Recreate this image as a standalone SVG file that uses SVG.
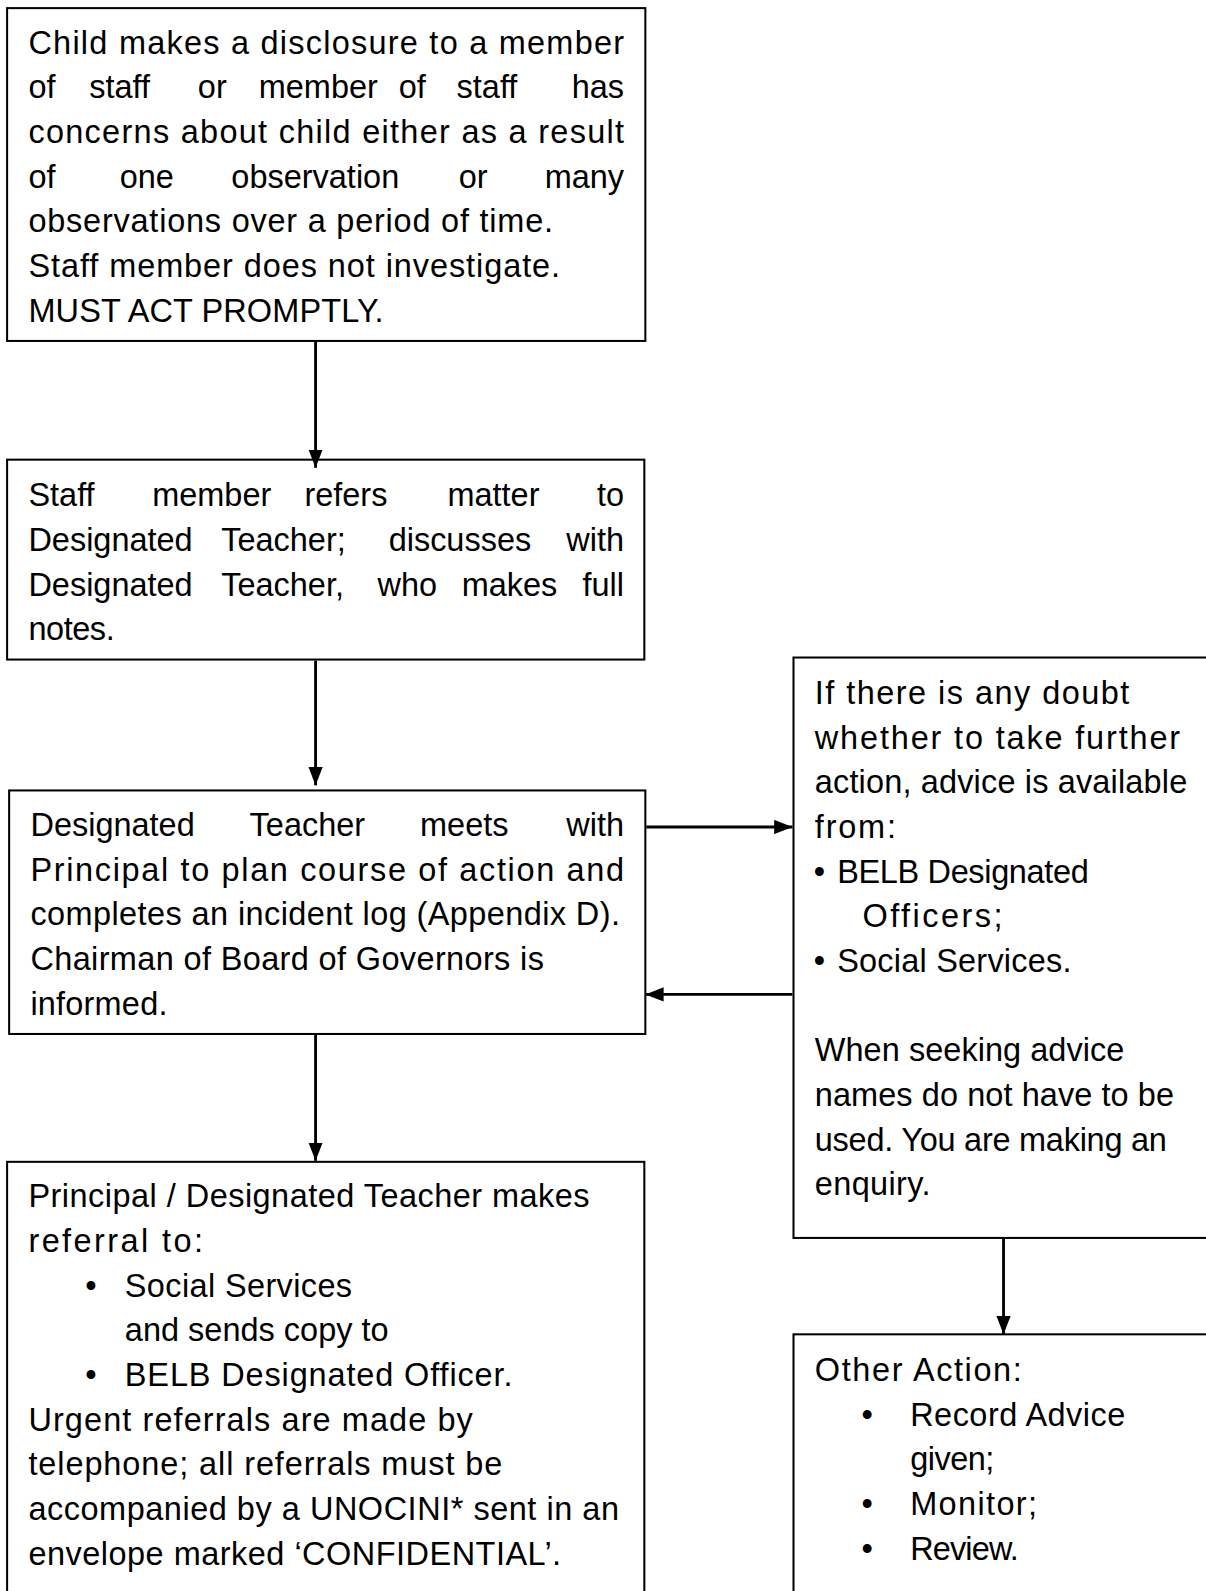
<svg xmlns="http://www.w3.org/2000/svg" width="1206" height="1591" viewBox="0 0 1206 1591">
<style>
.box{fill:#fff;stroke:#000;stroke-width:2}
.t{font-family:"Liberation Sans",Arial,sans-serif;font-size:32px;fill:#000}
.e{text-anchor:end}
.c{stroke:#000;stroke-width:2.8;fill:none;marker-end:url(#ah)}
</style>
<defs>
<marker id="ah" markerUnits="userSpaceOnUse" markerWidth="18" markerHeight="14" refX="18" refY="7" orient="auto">
<path d="M0,0 L18,7 L0,14 Z" fill="#000"/>
</marker>
</defs>
<rect width="1206" height="1591" fill="#fff"/>
<g transform="scale(1.0147)">
<g id="node1">
<rect class="box" x="7" y="8" width="629" height="328"/>
<text class="t" x="28" y="53" textLength="587" lengthAdjust="spacing">Child makes a disclosure to a member</text>
<text class="t" y="97"><tspan x="28">of</tspan> <tspan x="88">staff</tspan> <tspan x="195">or</tspan> <tspan x="255">member</tspan> <tspan x="393">of</tspan> <tspan x="450">staff</tspan></text>
<text class="t e" x="615" y="97">has</text>
<text class="t" x="28" y="141" textLength="587" lengthAdjust="spacing">concerns about child either as a result</text>
<text class="t" y="185"><tspan x="28">of</tspan> <tspan x="118">one</tspan> <tspan x="228">observation</tspan> <tspan x="452">or</tspan></text>
<text class="t e" x="615" y="185">many</text>
<text class="t" x="28" y="229" textLength="517" lengthAdjust="spacing">observations over a period of time.</text>
<text class="t" x="28" y="273" textLength="524" lengthAdjust="spacing">Staff member does not investigate.</text>
<text class="t" x="28" y="317" textLength="350" lengthAdjust="spacing">MUST ACT PROMPTLY.</text>
</g>

<g id="node2">
<rect class="box" x="7" y="453" width="628" height="197"/>
<text class="t" y="499"><tspan x="28">Staff</tspan> <tspan x="150">member</tspan> <tspan x="300">refers</tspan> <tspan x="441">matter</tspan></text>
<text class="t e" x="615" y="499">to</text>
<text class="t" y="543"><tspan x="28">Designated</tspan> <tspan x="218">Teacher;</tspan> <tspan x="383">discusses</tspan></text>
<text class="t e" x="615" y="543">with</text>
<text class="t" y="587"><tspan x="28">Designated</tspan> <tspan x="218">Teacher,</tspan> <tspan x="372">who</tspan> <tspan x="455">makes</tspan></text>
<text class="t e" x="615" y="587">full</text>
<text class="t" x="28" y="631" textLength="85" lengthAdjust="spacing">notes.</text>
</g>

<g id="node3">
<rect class="box" x="9" y="779" width="627" height="240"/>
<text class="t" y="824"><tspan x="30">Designated</tspan> <tspan x="246">Teacher</tspan> <tspan x="414">meets</tspan></text>
<text class="t e" x="615" y="824">with</text>
<text class="t" x="30" y="868" textLength="585" lengthAdjust="spacing">Principal to plan course of action and</text>
<text class="t" x="30" y="912" textLength="581" lengthAdjust="spacing">completes an incident log (Appendix D).</text>
<text class="t" x="30" y="956" textLength="506" lengthAdjust="spacing">Chairman of Board of Governors is</text>
<text class="t" x="30" y="1000" textLength="135" lengthAdjust="spacing">informed.</text>
</g>

<g id="node4">
<rect class="box" x="7" y="1145" width="628" height="470"/>
<text class="t" x="28" y="1190" textLength="553" lengthAdjust="spacing">Principal / Designated Teacher makes</text>
<text class="t" x="28" y="1234" textLength="172" lengthAdjust="spacing">referral to:</text>
<text class="t" x="84" y="1278">•</text>
<text class="t" x="123" y="1278" textLength="224" lengthAdjust="spacing">Social Services</text>
<text class="t" x="123" y="1322" textLength="260" lengthAdjust="spacing">and sends copy to</text>
<text class="t" x="84" y="1366">•</text>
<text class="t" x="123" y="1366" textLength="382" lengthAdjust="spacing">BELB Designated Officer.</text>
<text class="t" x="28" y="1410" textLength="438" lengthAdjust="spacing">Urgent referrals are made by</text>
<text class="t" x="28" y="1454" textLength="467" lengthAdjust="spacing">telephone; all referrals must be</text>
<text class="t" x="28" y="1498" textLength="582" lengthAdjust="spacing">accompanied by a UNOCINI* sent in an</text>
<text class="t" x="28" y="1542" textLength="525" lengthAdjust="spacing">envelope marked ‘CONFIDENTIAL’.</text>
</g>

<g id="node5">
<rect class="box" x="782" y="648" width="440" height="572"/>
<text class="t" x="803" y="694" textLength="310" lengthAdjust="spacing">If there is any doubt</text>
<text class="t" x="803" y="738" textLength="360" lengthAdjust="spacing">whether to take further</text>
<text class="t" x="803" y="782" textLength="367" lengthAdjust="spacing">action, advice is available</text>
<text class="t" x="803" y="826" textLength="80" lengthAdjust="spacing">from:</text>
<text class="t" x="802" y="870" font-size="22">•</text>
<text class="t" x="825" y="870" textLength="248" lengthAdjust="spacing">BELB Designated</text>
<text class="t" x="850" y="914" textLength="138" lengthAdjust="spacing">Officers;</text>
<text class="t" x="802" y="958" font-size="22">•</text>
<text class="t" x="825" y="958" textLength="231" lengthAdjust="spacing">Social Services.</text>
<text class="t" x="803" y="1046" textLength="305" lengthAdjust="spacing">When seeking advice</text>
<text class="t" x="803" y="1090" textLength="354" lengthAdjust="spacing">names do not have to be</text>
<text class="t" x="803" y="1134" textLength="347" lengthAdjust="spacing">used. You are making an</text>
<text class="t" x="803" y="1178" textLength="114" lengthAdjust="spacing">enquiry.</text>
</g>

<g id="node6">
<rect class="box" x="782" y="1315" width="440" height="300"/>
<text class="t" x="803" y="1361" textLength="204" lengthAdjust="spacing">Other Action:</text>
<text class="t" x="849" y="1405">•</text>
<text class="t" x="897" y="1405" textLength="212" lengthAdjust="spacing">Record Advice</text>
<text class="t" x="897" y="1449" textLength="83" lengthAdjust="spacing">given;</text>
<text class="t" x="849" y="1493">•</text>
<text class="t" x="897" y="1493" textLength="125" lengthAdjust="spacing">Monitor;</text>
<text class="t" x="849" y="1537">•</text>
<text class="t" x="897" y="1537" textLength="107" lengthAdjust="spacing">Review.</text>
</g>

<g id="connectors">
<line class="c" x1="311" y1="337" x2="311" y2="461"/>
<line class="c" x1="311" y1="651" x2="311" y2="774"/>
<line class="c" x1="311" y1="1020" x2="311" y2="1144"/>
<line class="c" x1="637" y1="815" x2="781" y2="815"/>
<line class="c" x1="781" y1="980" x2="636" y2="980"/>
<line class="c" x1="989" y1="1221" x2="989" y2="1315"/>
</g>
</g>
</svg>
